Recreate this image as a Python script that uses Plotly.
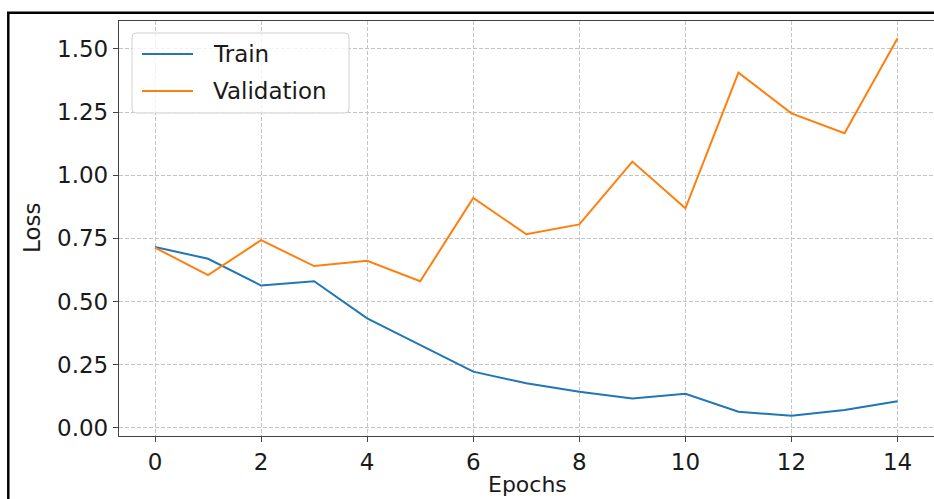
import plotly.graph_objects as go

epochs = list(range(15))
train_loss = [0.716, 0.669, 0.563, 0.580, 0.433, 0.328, 0.222, 0.176, 0.142, 0.116, 0.134, 0.063, 0.047, 0.070, 0.105]
val_loss = [0.713, 0.604, 0.743, 0.640, 0.661, 0.580, 0.910, 0.766, 0.805, 1.054, 0.869, 1.406, 1.245, 1.166, 1.542]
series_names = ["Train", "Validation"]
series_colors = ["#1f77b4", "#ff7f0e"]
x_ticks = [0, 2, 4, 6, 8, 10, 12, 14]
y_ticks = [0.0, 0.25, 0.5, 0.75, 1.0, 1.25, 1.5]
y_ticklabels = ["0.00", "0.25", "0.50", "0.75", "1.00", "1.25", "1.50"]

W, H = 934, 499
ML, MR, MT, MB = 119, 0, 21, 63
PW, PH = W - ML - MR, H - MT - MB
FONT = "DejaVu Sans"
FS = 23


def px(x):
    return (x - ML) / PW


def py(y):
    return (H - MB - y) / PH


fig = go.Figure()
for name, vals, col in zip(series_names, [train_loss, val_loss], series_colors):
    fig.add_trace(go.Scatter(x=epochs, y=vals, mode="lines", name=name,
                             line=dict(color=col, width=2), showlegend=False))

axis_common = dict(
    showgrid=True, gridcolor="#c4c4c4", gridwidth=1, griddash="4px,2px",
    zeroline=False, showline=True, linecolor="#444444", linewidth=1.3,
    ticks="outside", ticklen=5, tickwidth=1.2, tickcolor="#444444",
    tickfont=dict(family=FONT, size=FS, color="#1a1a1a"),
)
fig.update_xaxes(range=[-0.679, 14.687], tickvals=x_ticks, mirror=True, **axis_common)
fig.update_yaxes(range=[-0.0329, 1.6107], tickvals=y_ticks, ticktext=y_ticklabels, **axis_common)

shapes = []
# outer black frame (left and top)
shapes.append(dict(type="line", xref="paper", yref="paper", x0=px(8.3), x1=px(8.3),
                   y0=py(12), y1=py(H + 5), line=dict(color="black", width=2.5)))
shapes.append(dict(type="line", xref="paper", yref="paper", x0=px(7), x1=px(W + 5),
                   y0=py(12.7), y1=py(12.7), line=dict(color="black", width=2.5)))

# legend box with rounded corners
lx0, lx1, ly0, ly1, r = 132, 349, 33, 113, 4
path = (f"M {px(lx0 + r)},{py(ly0)} L {px(lx1 - r)},{py(ly0)} Q {px(lx1)},{py(ly0)} {px(lx1)},{py(ly0 + r)} "
        f"L {px(lx1)},{py(ly1 - r)} Q {px(lx1)},{py(ly1)} {px(lx1 - r)},{py(ly1)} "
        f"L {px(lx0 + r)},{py(ly1)} Q {px(lx0)},{py(ly1)} {px(lx0)},{py(ly1 - r)} "
        f"L {px(lx0)},{py(ly0 + r)} Q {px(lx0)},{py(ly0)} {px(lx0 + r)},{py(ly0)} Z")
shapes.append(dict(type="path", xref="paper", yref="paper", path=path,
                   fillcolor="rgba(255,255,255,0.8)", line=dict(color="#d0d0d0", width=1)))
annotations = []
for i, (name, col) in enumerate(zip(series_names, series_colors)):
    yy = 54 + i * 37
    shapes.append(dict(type="line", xref="paper", yref="paper", x0=px(142), x1=px(193),
                       y0=py(yy), y1=py(yy), line=dict(color=col, width=2)))
    annotations.append(dict(x=px(211), y=py(yy), xref="paper", yref="paper", text=name,
                            showarrow=False, xanchor="left", yanchor="middle",
                            font=dict(family=FONT, size=FS, color="#1a1a1a")))

annotations.append(dict(x=px(527), y=py(499), xref="paper", yref="paper", text="Epochs",
                        showarrow=False, xanchor="center", yanchor="bottom",
                        font=dict(family=FONT, size=FS - 1, color="#1a1a1a")))
annotations.append(dict(x=px(32), y=py(228), xref="paper", yref="paper", text="Loss",
                        showarrow=False, xanchor="center", yanchor="middle", textangle=-90,
                        font=dict(family=FONT, size=FS, color="#1a1a1a")))

fig.update_layout(
    width=W, height=H, margin=dict(l=ML, r=MR, t=MT, b=MB, pad=0),
    paper_bgcolor="white", plot_bgcolor="white",
    shapes=shapes, annotations=annotations, showlegend=False,
)
fig.write_html("out.html")
